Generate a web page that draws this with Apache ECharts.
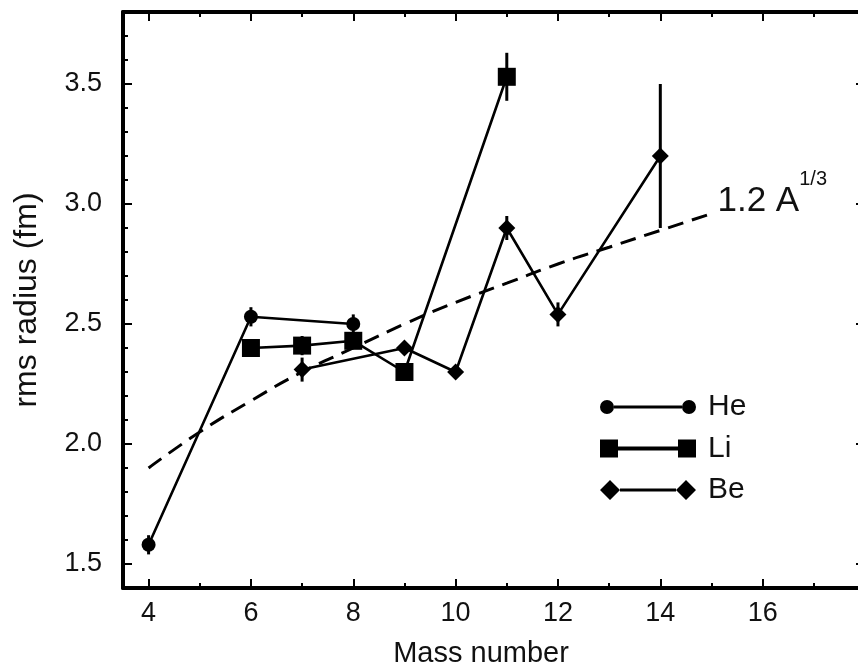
<!DOCTYPE html>
<html>
<head>
<meta charset="utf-8">
<script src="https://cdn.jsdelivr.net/npm/echarts@6/dist/echarts.min.js"></script>
<style>
  html, body { margin: 0; padding: 0; background: #fff; }
  #chart { width: 858px; height: 669px; }
</style>
</head>
<body>
<div id="chart"></div>
<script>
// rms matter radii of light isotopes (fm) against mass number
const massHe = [4, 6, 8];
const radiusHe = [1.58, 2.53, 2.50];
const errHe = [0.04, 0.04, 0.04];

const massLi = [6, 7, 8, 9, 11];
const radiusLi = [2.40, 2.41, 2.43, 2.30, 3.53];
const errLi = [0.02, 0.04, 0.03, 0.03, 0.10];

const massBe = [7, 9, 10, 11, 12, 14];
const radiusBe = [2.31, 2.40, 2.30, 2.90, 2.54, 3.20];
const errBe = [0.05, 0.02, 0.02, 0.05, 0.05, 0.30];

// reference curve 1.2 A^(1/3)
const massFit = [4, 5, 6, 7, 8, 9, 10, 11, 12, 13, 14, 15];
const radiusFit = [1.90, 2.05, 2.18, 2.30, 2.40, 2.50, 2.59, 2.67, 2.75, 2.82, 2.89, 2.96];

// axis ticks
const xMajorTicks = [4, 6, 8, 10, 12, 14, 16];
const xMinorTicks = [5, 7, 9, 11, 13, 15, 17];
const yMajorTicks = [1.5, 2.0, 2.5, 3.0, 3.5];
const yMinorTicks = [1.4, 1.6, 1.7, 1.8, 1.9, 2.1, 2.2, 2.3, 2.4, 2.6, 2.7, 2.8, 2.9,
                     3.1, 3.2, 3.3, 3.4, 3.6, 3.7, 3.8];

const FONT = '"Liberation Sans", Arial, Helvetica, sans-serif';
const INK = '#000';

const pairs = (xs, ys) => xs.map((x, i) => [x, ys[i]]);
const bars = (xs, ys, es) => xs.map((x, i) => [x, ys[i] - es[i], ys[i] + es[i]]);

const X_MIN = 3.5, X_MAX = 18, Y_MIN = 1.4, Y_MAX = 3.8;
// the frame runs a few pixels past the right edge of the canvas
const gridBox = { left: 123, top: 12, width: 742, height: 576, outerBoundsMode: 'none', containLabel: false };

function majorX(position, labels) {
  return {
    type: 'value', gridIndex: 0, position, min: X_MIN, max: X_MAX,
    axisLine: { show: true, onZero: false, lineStyle: { color: INK, width: 4 } },
    axisTick: { show: true, inside: true, length: 9, customValues: xMajorTicks,
                lineStyle: { color: INK, width: 2 } },
    axisLabel: { show: labels, customValues: xMajorTicks, margin: 12,
                 color: '#111', fontSize: 27, fontFamily: FONT },
    splitLine: { show: false }
  };
}
function minorX(position) {
  return {
    type: 'value', gridIndex: 1, position, min: X_MIN, max: X_MAX,
    axisLine: { show: false },
    axisTick: { show: true, inside: true, length: 5, customValues: xMinorTicks,
                lineStyle: { color: INK, width: 2 } },
    axisLabel: { show: false }, splitLine: { show: false }
  };
}
function majorY(position, labels) {
  return {
    type: 'value', gridIndex: 0, position, min: Y_MIN, max: Y_MAX,
    axisLine: { show: true, onZero: false, lineStyle: { color: INK, width: 4 } },
    axisTick: { show: true, inside: true, length: 9, customValues: yMajorTicks,
                lineStyle: { color: INK, width: 2 } },
    axisLabel: { show: labels, customValues: yMajorTicks, margin: 21,
                 formatter: v => v.toFixed(1),
                 color: '#111', fontSize: 27, fontFamily: FONT },
    splitLine: { show: false }
  };
}
function minorY(position) {
  return {
    type: 'value', gridIndex: 1, position, min: Y_MIN, max: Y_MAX,
    axisLine: { show: false },
    axisTick: { show: true, inside: true, length: 5, customValues: yMinorTicks,
                lineStyle: { color: INK, width: 2 } },
    axisLabel: { show: false }, splitLine: { show: false }
  };
}

const xBottom = majorX('bottom', true);
Object.assign(xBottom, {
  name: 'Mass number', nameLocation: 'middle', nameGap: 51,
  nameTextStyle: { color: '#111', fontSize: 29, fontFamily: FONT, padding: [0, 26, 0, 0] }
});
const yLeft = majorY('left', true);
Object.assign(yLeft, {
  name: 'rms radius (fm)', nameLocation: 'middle', nameGap: 80,
  nameTextStyle: { color: '#111', fontSize: 32, fontFamily: FONT }
});

function errorBarItem(params, api) {
  const p1 = api.coord([api.value(0), api.value(1)]);
  const p2 = api.coord([api.value(0), api.value(2)]);
  return {
    type: 'line',
    shape: { x1: p1[0], y1: p1[1], x2: p2[0], y2: p2[1] },
    style: { stroke: INK, lineWidth: 3 }
  };
}
function errorSeries(name, data) {
  return {
    name, type: 'custom', renderItem: errorBarItem, data,
    encode: { x: 0, y: [1, 2] }, z: 2, silent: true
  };
}
function dataSeries(name, data, symbol, size) {
  return {
    name, type: 'line', data, symbol, symbolSize: size, showAllSymbol: true,
    lineStyle: { color: INK, width: 2.6 }, itemStyle: { color: INK },
    z: 3, silent: true
  };
}

// legend glyphs: marker - line - marker, 96 x 20 boxes
const iconHe = 'path://M0 0M96 20M0 10a7 7 0 1 0 14 0a7 7 0 1 0 -14 0zM14 8.5h68v3h-68zM82 10a7 7 0 1 0 14 0a7 7 0 1 0 -14 0z';
const iconLi = 'path://M0 0M96 20M0 1h18v18h-18zM18 8h60v4h-60zM78 1h18v18h-18z';
const iconBe = 'path://M0 0M96 20M0 10L10 0L20 10L10 20zM20 8.5h56v3h-56zM76 10L86 0L96 10L86 20z';

const chart = echarts.init(document.getElementById('chart'), null, { renderer: 'canvas' });
chart.setOption({
  animation: false,
  backgroundColor: '#fff',
  grid: [Object.assign({}, gridBox), Object.assign({}, gridBox)],
  xAxis: [xBottom, majorX('top', false), minorX('bottom'), minorX('top')],
  yAxis: [yLeft, majorY('right', false), minorY('left'), minorY('right')],
  legend: {
    orient: 'vertical', left: 600, top: 392, padding: 0,
    itemWidth: 96, itemHeight: 20, itemGap: 11.5,
    selectedMode: false,
    textStyle: { color: '#111', fontSize: 30, fontFamily: FONT, padding: [0, 0, 0, 7] },
    data: [
      { name: 'He', icon: iconHe, itemStyle: { color: INK } },
      { name: 'Li', icon: iconLi, itemStyle: { color: INK } },
      { name: 'Be', icon: iconBe, itemStyle: { color: INK } }
    ]
  },
  series: [
    {
      name: '1.2 A^1/3', type: 'line', data: pairs(massFit, radiusFit),
      smooth: true, symbol: 'none', z: 1, silent: true,
      lineStyle: { color: INK, width: 3, type: [16, 9] },
      endLabel: {
        show: true, distance: 6, offset: [0, -12],
        formatter: '{a|1.2 A}{s|1/3}',
        rich: {
          a: { fontSize: 35, lineHeight: 64, fontFamily: FONT, color: '#111' },
          s: { fontSize: 20, lineHeight: 20, verticalAlign: 'top', fontFamily: FONT, color: '#111' }
        }
      }
    },
    errorSeries('He error', bars(massHe, radiusHe, errHe)),
    errorSeries('Li error', bars(massLi, radiusLi, errLi)),
    errorSeries('Be error', bars(massBe, radiusBe, errBe)),
    dataSeries('He', pairs(massHe, radiusHe), 'circle', 14),
    dataSeries('Li', pairs(massLi, radiusLi), 'rect', 18),
    dataSeries('Be', pairs(massBe, radiusBe), 'diamond', 17)
  ]
});
</script>
</body>
</html>
